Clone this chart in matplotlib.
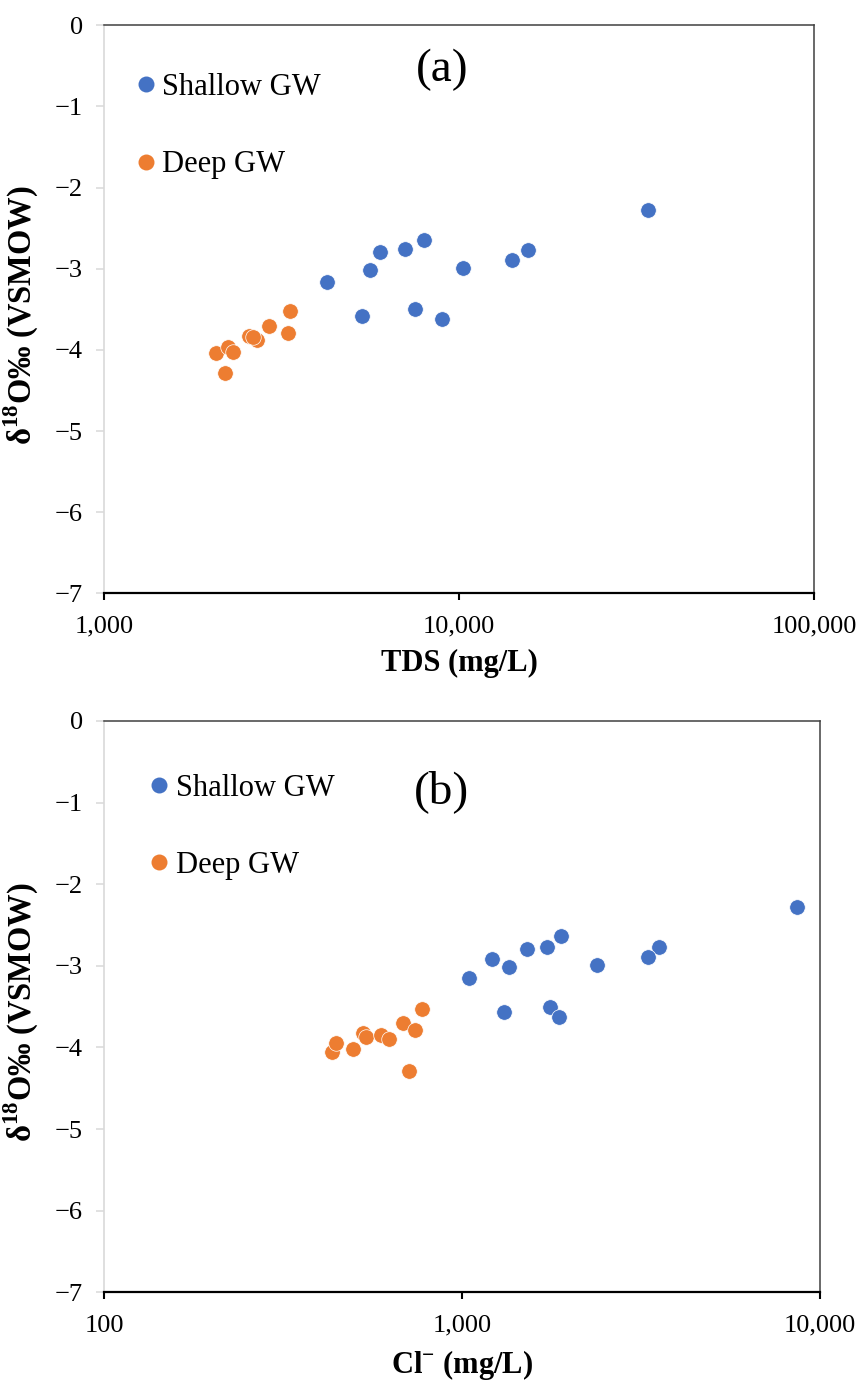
import matplotlib
matplotlib.use("Agg")
import matplotlib.pyplot as plt
from matplotlib.lines import Line2D
from matplotlib.ticker import FixedLocator, FixedFormatter, NullLocator

# ---------------- data ----------------
tds_shallow = [34000, 7960, 7060, 5980, 15600, 14060, 5610, 10260, 4250, 5320, 7500, 8930]
d18o_shallow_a = [-2.28, -2.65, -2.76, -2.79, -2.77, -2.89, -3.01, -2.99, -3.16, -3.58, -3.50, -3.62]
tds_deep = [2070, 2230, 2300, 2190, 2550, 2690, 2630, 2910, 3290, 3340]
d18o_deep_a = [-4.04, -3.96, -4.03, -4.28, -3.83, -3.88, -3.84, -3.70, -3.79, -3.52]

cl_shallow = [8590, 1884, 1725, 1514, 3550, 3300, 1208, 1349, 2377, 1042, 1309, 1754, 1866]
d18o_shallow_b = [-2.28, -2.64, -2.77, -2.79, -2.77, -2.89, -2.92, -3.01, -2.99, -3.15, -3.57, -3.51, -3.63]
cl_deep = [433, 444, 495, 528, 539, 593, 623, 683, 736, 770, 711]
d18o_deep_b = [-4.05, -3.95, -4.02, -3.82, -3.87, -3.85, -3.90, -3.70, -3.78, -3.53, -4.29]

series_names = ["Shallow GW", "Deep GW"]
yticks = [0, -1, -2, -3, -4, -5, -6, -7]
xticks_a = [1000, 10000, 100000]
xlabels_a = ["1,000", "10,000", "100,000"]
xticks_b = [100, 1000, 10000]
xlabels_b = ["100", "1,000", "10,000"]

# ---------------- style ----------------
plt.rcParams['font.family'] = ['Liberation Serif', 'DejaVu Serif']
plt.rcParams['mathtext.fontset'] = 'custom'
plt.rcParams['mathtext.rm'] = 'Liberation Serif'
plt.rcParams['mathtext.bf'] = 'Liberation Serif:bold'
plt.rcParams['axes.unicode_minus'] = True

BLUE = "#4472C4"
ORANGE = "#ED7D31"

fig = plt.figure(figsize=(8.61, 13.83), dpi=100)
ax_a = fig.add_axes([0.1211, 0.5710, 0.8243, 0.4107])
ax_b = fig.add_axes([0.1211, 0.06558, 0.8316, 0.41309])

def style(ax, xt, xl, xlabel, tag, tagpos, legpos):
    ax.set_xscale('log')
    ax.set_xlim(xt[0], xt[-1])
    ax.set_ylim(-7, 0)
    ax.xaxis.set_major_locator(FixedLocator(xt))
    ax.xaxis.set_major_formatter(FixedFormatter(xl))
    ax.xaxis.set_minor_locator(NullLocator())
    ax.set_yticks(yticks)
    ax.set_yticklabels(["0"] + ["\u2212%d" % (-v) for v in yticks[1:]])
    ax.tick_params(axis='x', direction='out', length=5, width=1.5, color='black',
                   labelsize=19, pad=11)
    ax.tick_params(axis='y', direction='out', length=5.5, width=1.1, color='#D9D9D9',
                   labelsize=19, pad=10)
    ax.spines['left'].set_color('#D9D9D9')
    ax.spines['left'].set_linewidth(1.2)
    ax.spines['bottom'].set_color('black')
    ax.spines['bottom'].set_linewidth(1.6)
    for s in ('top', 'right'):
        ax.spines[s].set_color('#404040')
        ax.spines[s].set_linewidth(1.1)
    ax.set_xlabel(xlabel, fontsize=22, fontweight='bold', labelpad=8)
    ax.set_ylabel(r"δ$^{\mathbf{18}}$O‰ (VSMOW)", fontsize=23.5, fontweight='bold')
    ax.yaxis.set_label_coords(-0.089, 0.49)
    ax.text(tagpos[0], tagpos[1], tag, transform=ax.transAxes, fontsize=34,
            ha='center', va='center')
    handles = [Line2D([], [], linestyle='none', marker='o', markersize=11.5,
                      markerfacecolor=c, markeredgecolor='none')
               for c in (BLUE, ORANGE)]
    ax.legend(handles, series_names, loc='upper left', bbox_to_anchor=legpos,
              frameon=False, fontsize=22, handlelength=0.5, handletextpad=0.3,
              labelspacing=1.58, borderpad=0, borderaxespad=0)

ax_a.scatter(tds_shallow, d18o_shallow_a, s=125, color=BLUE, edgecolors='white',
             linewidths=0.5, zorder=3, clip_on=False)
ax_a.scatter(tds_deep, d18o_deep_a, s=125, color=ORANGE, edgecolors='white',
             linewidths=0.5, zorder=3, clip_on=False)
style(ax_a, xticks_a, xlabels_a, "TDS (mg/L)", "(a)", (0.4767, 0.9225), (0.0475, 0.916))

ax_b.scatter(cl_shallow, d18o_shallow_b, s=125, color=BLUE, edgecolors='white',
             linewidths=0.5, zorder=3, clip_on=False)
ax_b.scatter(cl_deep, d18o_deep_b, s=125, color=ORANGE, edgecolors='white',
             linewidths=0.5, zorder=3, clip_on=False)
style(ax_b, xticks_b, xlabels_b, r"Cl$^{\mathbf{-}}$ (mg/L)", "(b)", (0.4712, 0.8762), (0.0655, 0.9075))

fig.savefig("out.png", dpi=100)
